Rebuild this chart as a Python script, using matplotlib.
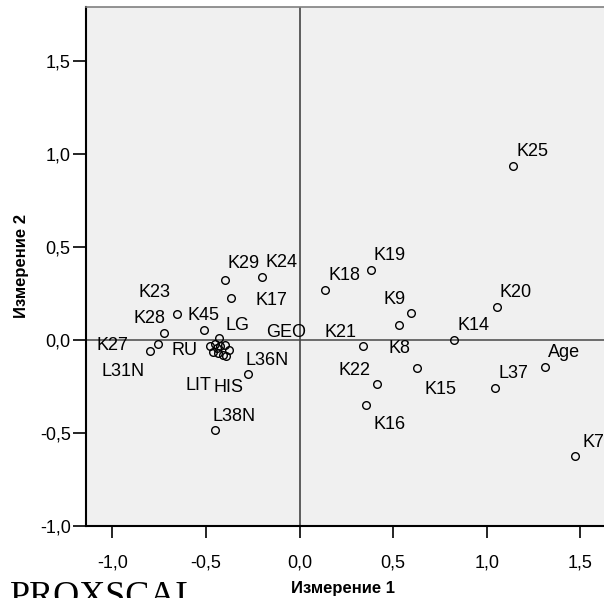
"""
PROXSCAL object points, dimension 1 vs dimension 2
"""

import matplotlib
matplotlib.use("Agg")
import matplotlib.pyplot as plt

# ----- data -----
names = ["K25", "K20", "Age", "L37", "K7", "K19", "K18", "K9", "K8", "K14",
         "K21", "K15", "K22", "K16", "K29", "K24", "K17", "K23", "K45", "K28",
         "K27", "L31N", "L36N", "L38N", "LG", "RU", "LIT", "HIS", "GEO",
         "", "", "", "", "", ""]
dim1 = [1.140, 1.053, 1.312, 1.045, 1.472, 0.380, 0.138, 0.594, 0.530, 0.825,
        0.339, 0.629, 0.412, 0.353, -0.399, -0.199, -0.364, -0.656, -0.510, -0.725,
        -0.754, -0.798, -0.273, -0.451, -0.428, -0.478, -0.460, -0.434, -0.375,
        -0.451, -0.424, -0.398, -0.407, -0.394, -0.442]
dim2 = [0.935, 0.179, -0.144, -0.256, -0.624, 0.376, 0.269, 0.145, 0.081, 0.000,
        -0.034, -0.151, -0.237, -0.351, 0.323, 0.337, 0.224, 0.140, 0.054, 0.038,
        -0.020, -0.061, -0.184, -0.484, 0.009, -0.032, -0.063, -0.072, -0.054,
        -0.022, -0.032, -0.027, -0.081, -0.086, -0.045]

x_ticks = [-1.0, -0.5, 0.0, 0.5, 1.0, 1.5]
y_ticks = [-1.0, -0.5, 0.0, 0.5, 1.0, 1.5]

# label placement (pixels from the point: left edge, baseline); default above-right
default_offset = (3, 10)
label_offsets = {
    "K7": (7, 9), "K9": (-27, 9), "K8": (-10, -28), "K21": (-39, 9),
    "K22": (-38, 9), "K15": (7, -26), "K16": (8, -24), "K17": (24, -7),
    "K23": (-38, 17), "K45": (-16, 10), "K28": (-30, 10), "K27": (-62, -6),
    "L31N": (-49, -25), "L36N": (-3, 9), "L38N": (-3, 9), "LG": (6, 8),
    "RU": (-38, -9), "LIT": (-28, -38), "HIS": (-5, -39), "GEO": (37, 13),
    "K29": (3, 12),
}

plt.rcParams["font.family"] = ["Liberation Sans", "DejaVu Sans"]

fig = plt.figure(figsize=(6.04, 5.98), dpi=100)
ax = fig.add_axes([0.1419, 0.1204, 0.8581, 0.8679])
ax.set_facecolor("#f0f0f0")

ax.axhline(0, color="#555555", lw=1.2, zorder=1)
ax.axvline(0, color="#444444", lw=1.2, zorder=1)

ax.plot(dim1, dim2, "o", ms=5.5, mfc="none", mec="black", mew=1, zorder=3)

for name, x, y in zip(names, dim1, dim2):
    if not name:
        continue
    dx, dy = label_offsets.get(name, default_offset)
    ax.annotate(name, (x, y), xytext=(dx, dy), textcoords="offset pixels",
                ha="left", va="baseline", fontsize=13, annotation_clip=False)

ax.set_xlim(-1.1415, 1.6257)
ax.set_ylim(-1.0, 1.79)
ax.set_xticks(x_ticks)
ax.set_yticks(y_ticks)
ax.set_xticklabels([f"{v:.1f}".replace(".", ",") for v in x_ticks])
ax.set_yticklabels([f"{v:.1f}".replace(".", ",") for v in y_ticks])
ax.tick_params(axis="x", length=8.4, width=1.2, pad=12, labelsize=13, direction="out")
ax.tick_params(axis="y", length=9.6, width=1.2, pad=1.2, labelsize=13, direction="out")

ax.spines["left"].set_linewidth(1.5)
ax.spines["bottom"].set_linewidth(1.5)
ax.spines["top"].set_color("#808080")
ax.spines["top"].set_linewidth(1.2)
ax.spines["right"].set_visible(False)

fig.text(0.568, 0.0084, "Измерение 1", ha="center", va="baseline",
         fontsize=12, fontweight="bold")
fig.text(0.0364, 0.555, "Измерение 2", ha="center", va="center",
         rotation=90, fontsize=12, fontweight="bold")
# the caption sits partly below the picture's edge, as in the source
fig.text(0.0166, -0.0134, "PROXSCAL", ha="left", va="baseline",
         fontsize=26, family="Liberation Serif")

fig.savefig("out.png", dpi=100)
